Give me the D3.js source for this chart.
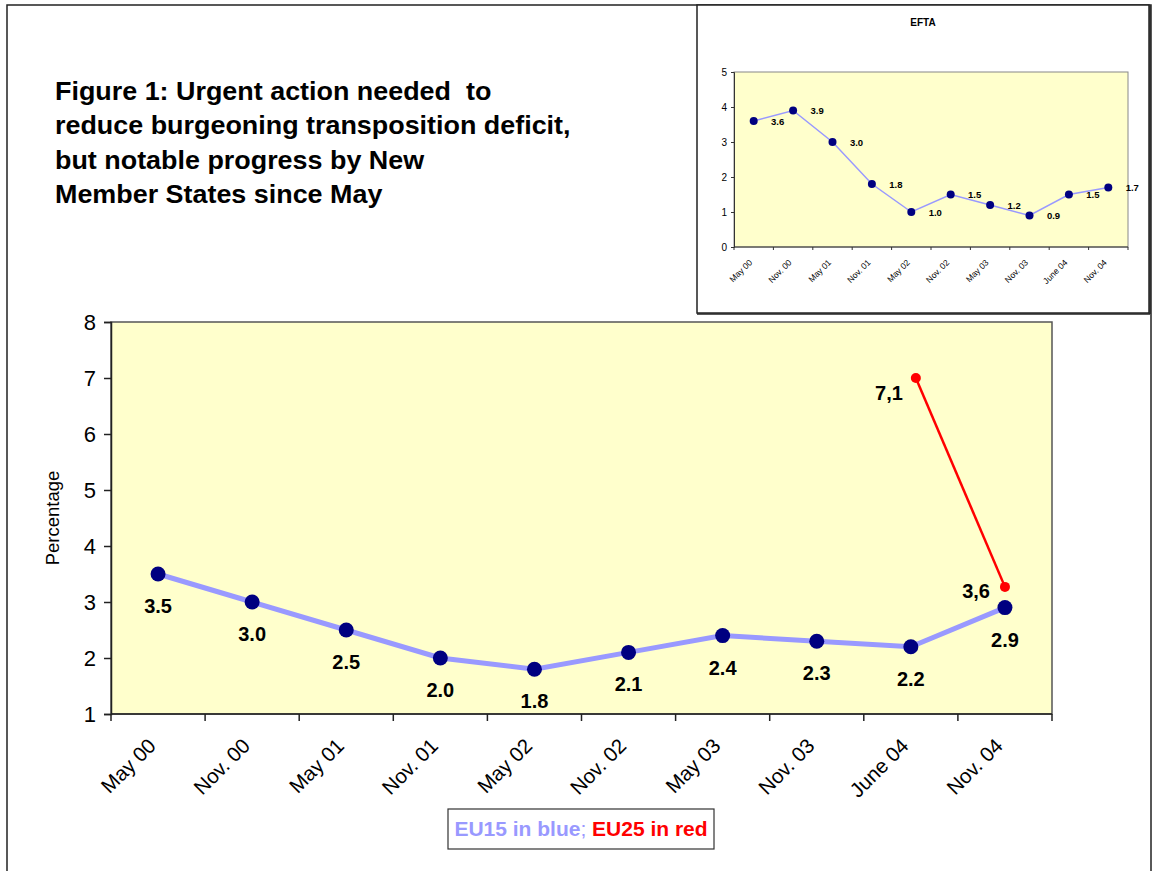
<!DOCTYPE html>
<html>
<head>
<meta charset="utf-8">
<script src="https://cdn.jsdelivr.net/npm/d3@7"></script>
<style>
  body { margin: 0; background: #fff; }
  text { font-family: Arial, "Liberation Sans", sans-serif; }
</style>
</head>
<body>
<script>
var w = 1154;
var h = 871;

// data
var periods = ["May 00", "Nov. 00", "May 01", "Nov. 01", "May 02", "Nov. 02", "May 03", "Nov. 03", "June 04", "Nov. 04"];
var eu15 = [3.5, 3.0, 2.5, 2.0, 1.8, 2.1, 2.4, 2.3, 2.2, 2.9];
var eu25Periods = ["June 04", "Nov. 04"];
var eu25 = [7.0, 3.27];
var eu25Labels = ["7,1", "3,6"];
var efta = [3.6, 3.9, 3.0, 1.8, 1.0, 1.5, 1.2, 0.9, 1.5, 1.7];
var mainTicks = [1, 2, 3, 4, 5, 6, 7, 8];
var eftaTicks = [0, 1, 2, 3, 4, 5];
var titleLines = ["Figure 1: Urgent action needed  to", "reduce burgeoning transposition deficit,", "but notable progress by New", "Member States since May"];

var svg = d3.select("body")
  .append("svg")
  .attr("width", w)
  .attr("height", h);

// outer frame
svg.append("rect")
  .attr("x", 7).attr("y", 5)
  .attr("width", 1144).attr("height", 900)
  .attr("fill", "none")
  .attr("stroke", "#222")
  .attr("stroke-width", 1.5);

// title (slightly stretched to match the original width)
svg.append("text")
  .attr("transform", "translate(55,100) scale(1.055,1)")
  .attr("font-size", 25.5).attr("font-weight", "bold")
  .style("white-space", "pre")
  .selectAll("tspan")
  .data(titleLines)
  .enter()
  .append("tspan")
  .attr("x", 0)
  .attr("dy", function(d, i) { return i == 0 ? 0 : 34.5; })
  .text(function(d) { return d; });

// ---------- main chart ----------
var plot = {left: 111, right: 1052, top: 322, bottom: 714};

var xScale = d3.scaleBand()
  .domain(periods)
  .range([plot.left, plot.right]);

var yScale = d3.scaleLinear()
  .domain([1, 8])
  .range([plot.bottom, plot.top]);

function cx(d) { return xScale(d) + xScale.bandwidth() / 2; }

svg.append("rect")
  .attr("x", plot.left).attr("y", plot.top)
  .attr("width", plot.right - plot.left)
  .attr("height", plot.bottom - plot.top)
  .attr("fill", "#ffffcc")
  .attr("stroke", "#555")
  .attr("stroke-width", 1.5);

var yAxis = svg.append("g")
  .attr("transform", "translate(" + plot.left + ",0)")
  .call(d3.axisLeft(yScale).tickValues(mainTicks).tickSize(7).tickPadding(8).tickFormat(d3.format("d")));
yAxis.selectAll("text").attr("font-size", 22).attr("fill", "#000").attr("font-family", "Arial, 'Liberation Sans', sans-serif");
yAxis.selectAll("line, path").attr("stroke", "#222").attr("stroke-width", 1.5);

// x axis: ticks at band boundaries
var xAxis = svg.append("g").attr("class", "xaxis");
xAxis.append("line")
  .attr("x1", plot.left).attr("x2", plot.right)
  .attr("y1", plot.bottom).attr("y2", plot.bottom)
  .attr("stroke", "#222").attr("stroke-width", 1.5);
xAxis.selectAll("line.tick")
  .data(periods.concat(["end"]))
  .enter()
  .append("line")
  .attr("class", "tick")
  .attr("x1", function(d, i) { return plot.left + i * xScale.step(); })
  .attr("x2", function(d, i) { return plot.left + i * xScale.step(); })
  .attr("y1", plot.bottom).attr("y2", plot.bottom + 7)
  .attr("stroke", "#222").attr("stroke-width", 1.5);
xAxis.selectAll("text")
  .data(periods)
  .enter()
  .append("text")
  .attr("text-anchor", "end")
  .attr("font-size", 20.5)
  .attr("transform", function(d) {
    return "translate(" + (cx(d) - 6) + "," + (plot.bottom + 28) + ") rotate(-45)";
  })
  .attr("dy", "0.35em")
  .text(function(d) { return d; });

svg.append("text")
  .attr("transform", "translate(59,518) rotate(-90)")
  .attr("text-anchor", "middle")
  .attr("font-size", 18.5)
  .text("Percentage");

// EU15 line
var line = d3.line()
  .x(function(d, i) { return cx(periods[i]); })
  .y(function(d) { return yScale(d); });

svg.append("path")
  .datum(eu15)
  .attr("d", line)
  .attr("fill", "none")
  .attr("stroke", "#9999ff")
  .attr("stroke-width", 5);

svg.selectAll("circle.eu15")
  .data(eu15)
  .enter()
  .append("circle")
  .attr("class", "eu15")
  .attr("cx", function(d, i) { return cx(periods[i]); })
  .attr("cy", function(d) { return yScale(d); })
  .attr("r", 7.5)
  .attr("fill", "#000080");

svg.selectAll("text.eu15")
  .data(eu15)
  .enter()
  .append("text")
  .attr("class", "eu15")
  .attr("x", function(d, i) { return cx(periods[i]); })
  .attr("y", function(d) { return yScale(d) + 39; })
  .attr("text-anchor", "middle")
  .attr("font-size", 20)
  .attr("font-weight", "bold")
  .text(function(d) { return d3.format(".1f")(d); });

// EU25 line
var line25 = d3.line()
  .x(function(d, i) { return cx(eu25Periods[i]) + (i == 0 ? 5 : 0); })
  .y(function(d) { return yScale(d); });

svg.append("path")
  .datum(eu25)
  .attr("d", line25)
  .attr("fill", "none")
  .attr("stroke", "#ff0000")
  .attr("stroke-width", 2.5);

svg.selectAll("circle.eu25")
  .data(eu25)
  .enter()
  .append("circle")
  .attr("class", "eu25")
  .attr("cx", function(d, i) { return cx(eu25Periods[i]) + (i == 0 ? 5 : 0); })
  .attr("cy", function(d) { return yScale(d); })
  .attr("r", 5)
  .attr("fill", "#ff0000");

svg.selectAll("text.eu25")
  .data(eu25)
  .enter()
  .append("text")
  .attr("class", "eu25")
  .attr("x", function(d, i) { return cx(eu25Periods[i]) - (i == 0 ? 8 : 15); })
  .attr("y", function(d, i) { return yScale(d) + (i == 0 ? 22 : 11); })
  .attr("text-anchor", "end")
  .attr("font-size", 20)
  .attr("font-weight", "bold")
  .text(function(d, i) { return eu25Labels[i]; });

// legend
svg.append("rect")
  .attr("x", 448).attr("y", 809)
  .attr("width", 266).attr("height", 40)
  .attr("fill", "#fff")
  .attr("stroke", "#333")
  .attr("stroke-width", 1.2);
var leg = svg.append("text")
  .attr("x", 581).attr("y", 836)
  .attr("text-anchor", "middle")
  .attr("font-size", 21)
  .attr("font-weight", "bold");
leg.append("tspan").attr("fill", "#9999ff").text("EU15 in blue");
leg.append("tspan").attr("fill", "#9999ff").attr("font-weight", "normal").text("; ");
leg.append("tspan").attr("fill", "#ff0000").text("EU25 in red");

// ---------- EFTA inset ----------
svg.append("rect")
  .attr("x", 697).attr("y", 5)
  .attr("width", 452).attr("height", 308)
  .attr("fill", "#fff")
  .attr("stroke", "#222")
  .attr("stroke-width", 1.5);
svg.append("line")
  .attr("x1", 1150).attr("x2", 1150).attr("y1", 6).attr("y2", 314)
  .attr("stroke", "#222").attr("stroke-width", 1.5);
svg.append("line")
  .attr("x1", 697).attr("x2", 1150).attr("y1", 314).attr("y2", 314)
  .attr("stroke", "#222").attr("stroke-width", 1.5);

svg.append("text")
  .attr("x", 923).attr("y", 26)
  .attr("text-anchor", "middle")
  .attr("font-size", 10)
  .attr("font-weight", "bold")
  .text("EFTA");

var eplot = {left: 734, right: 1128, top: 72, bottom: 247};

var exScale = d3.scaleBand()
  .domain(periods)
  .range([eplot.left, eplot.right]);
var eyScale = d3.scaleLinear()
  .domain([0, 5])
  .range([eplot.bottom, eplot.top]);
function ecx(d) { return exScale(d) + exScale.bandwidth() / 2; }

svg.append("rect")
  .attr("x", eplot.left).attr("y", eplot.top)
  .attr("width", eplot.right - eplot.left)
  .attr("height", eplot.bottom - eplot.top)
  .attr("fill", "#ffffcc")
  .attr("stroke", "#888")
  .attr("stroke-width", 1);

var eyAxis = svg.append("g")
  .attr("transform", "translate(" + eplot.left + ",0)")
  .call(d3.axisLeft(eyScale).tickValues(eftaTicks).tickSize(3).tickPadding(4).tickFormat(d3.format("d")));
eyAxis.selectAll("text").attr("font-size", 10).attr("fill", "#000").attr("font-family", "Arial, 'Liberation Sans', sans-serif");
eyAxis.selectAll("line, path").attr("stroke", "#333");

svg.append("line")
  .attr("x1", eplot.left).attr("x2", eplot.right)
  .attr("y1", eplot.bottom).attr("y2", eplot.bottom)
  .attr("stroke", "#333");
svg.selectAll("line.etick")
  .data(periods.concat(["end"]))
  .enter()
  .append("line")
  .attr("class", "etick")
  .attr("x1", function(d, i) { return eplot.left + i * exScale.step(); })
  .attr("x2", function(d, i) { return eplot.left + i * exScale.step(); })
  .attr("y1", eplot.bottom).attr("y2", eplot.bottom + 3)
  .attr("stroke", "#333");
svg.selectAll("text.ex")
  .data(periods)
  .enter()
  .append("text")
  .attr("class", "ex")
  .attr("text-anchor", "end")
  .attr("font-size", 8.5)
  .attr("transform", function(d) {
    return "translate(" + (ecx(d) - 3) + "," + (eplot.bottom + 14) + ") rotate(-45)";
  })
  .attr("dy", "0.35em")
  .text(function(d) { return d; });

var eline = d3.line()
  .x(function(d, i) { return ecx(periods[i]); })
  .y(function(d) { return eyScale(d); });

svg.append("path")
  .datum(efta)
  .attr("d", eline)
  .attr("fill", "none")
  .attr("stroke", "#9999ff")
  .attr("stroke-width", 1.5);

svg.selectAll("circle.efta")
  .data(efta)
  .enter()
  .append("circle")
  .attr("class", "efta")
  .attr("cx", function(d, i) { return ecx(periods[i]); })
  .attr("cy", function(d) { return eyScale(d); })
  .attr("r", 4)
  .attr("fill", "#000080");

svg.selectAll("text.efta")
  .data(efta)
  .enter()
  .append("text")
  .attr("class", "efta")
  .attr("x", function(d, i) { return ecx(periods[i]) + 24; })
  .attr("y", function(d) { return eyScale(d) + 3.5; })
  .attr("text-anchor", "middle")
  .attr("font-size", 9.5)
  .attr("font-weight", "bold")
  .text(function(d) { return d3.format(".1f")(d); });
</script>
</body>
</html>
